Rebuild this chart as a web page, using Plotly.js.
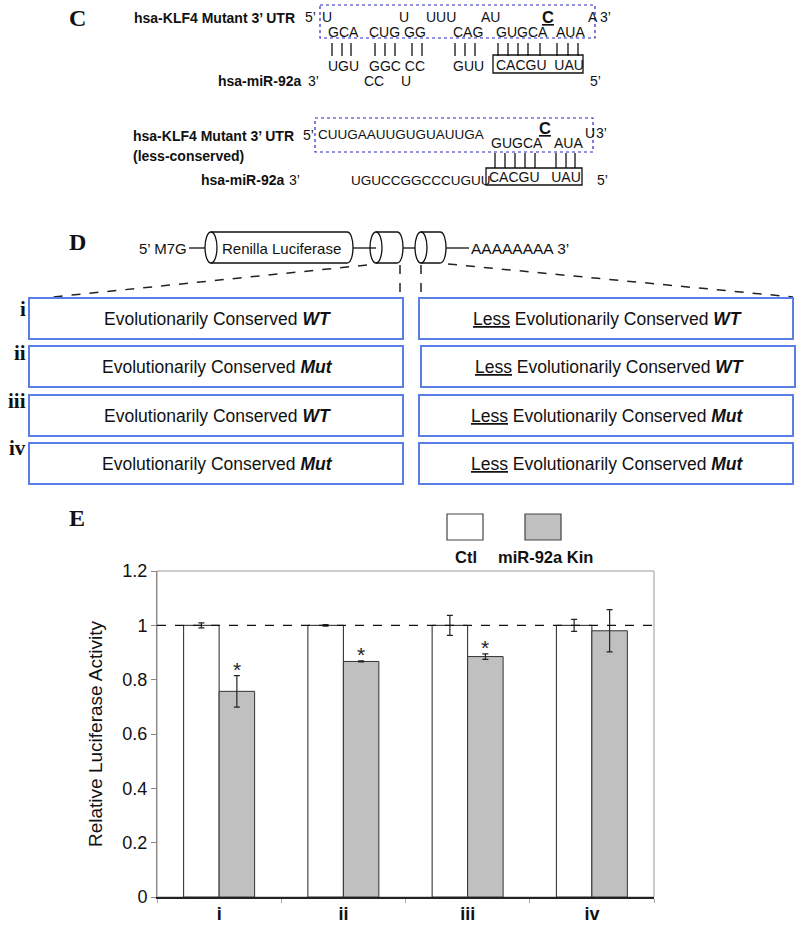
<!DOCTYPE html>
<html><head><meta charset="utf-8">
<script src="https://cdn.plot.ly/plotly-3.0.1.min.js"></script>
<style>body{margin:0;background:#fff}</style>
</head><body><div id="chart" style="width:800px;height:930px"></div>
<script>
// ---------- data ----------
const categories = ['i', 'ii', 'iii', 'iv'];
const seriesNames = ['Ctl', 'miR-92a Kin'];
const ctlValues = [1.0, 1.0, 1.0, 1.0];
const ctlErrors = [0.009, 0.003, 0.037, 0.022];
const kinValues = [0.757, 0.867, 0.885, 0.980];
const kinErrors = [0.058, 0.002, 0.010, 0.078];
const significant = [true, true, true, false];
const yTicks = [0, 0.2, 0.4, 0.6, 0.8, 1, 1.2];
const leftConstructs = ['Evolutionarily Conserved <b><i>WT</i></b>', 'Evolutionarily Conserved <b><i>Mut</i></b>',
  'Evolutionarily Conserved <b><i>WT</i></b>', 'Evolutionarily Conserved <b><i>Mut</i></b>'];
const rightConstructs = ['<u>Less</u> Evolutionarily Conserved <b><i>WT</i></b>', '<u>Less</u> Evolutionarily Conserved <b><i>WT</i></b>',
  '<u>Less</u> Evolutionarily Conserved <b><i>Mut</i></b>', '<u>Less</u> Evolutionarily Conserved <b><i>Mut</i></b>'];

// ---------- geometry helpers ----------
const L = 157, R = 654, T = 571, B = 897;
const px = x => (x - L) / (R - L);
const py = y => (B - y) / (B - T);
const SANS = 'Liberation Sans, Arial, sans-serif';
const SERIF = 'Liberation Serif, Times New Roman, serif';
const ann = [];
const shapes = [];
function txt(x, y, text, size, anchor, family, color) {
  ann.push({xref: 'paper', yref: 'paper', x: px(x), y: py(y), text: text, showarrow: false,
    xanchor: anchor || 'left', yanchor: 'middle', borderpad: 0,
    font: {family: family || SANS, size: size, color: color || '#111'}});
}
function line(x0, y0, x1, y1, color, width, dash) {
  shapes.push({type: 'line', xref: 'paper', yref: 'paper', x0: px(x0), y0: py(y0), x1: px(x1), y1: py(y1),
    line: {color: color || '#111', width: width || 1, dash: dash || 'solid'}});
}
function rect(x0, y0, x1, y1, color, width, dash, fill) {
  shapes.push({type: 'rect', xref: 'paper', yref: 'paper', x0: px(x0), y0: py(y0), x1: px(x1), y1: py(y1),
    line: {color: color, width: width, dash: dash || 'solid'}, fillcolor: fill || 'rgba(0,0,0,0)'});
}

// ---------- panel C ----------
txt(68, 18, '<b>C</b>', 24, 'left', SERIF);
rect(320, 5, 595, 38, '#2828c8', 1.2, 'dot');
txt(133, 18, '<b>hsa-KLF4 Mutant 3’ UTR</b>', 14);
txt(304, 17, '5’', 14);
txt(321, 17, 'U', 14); txt(398, 17, 'U', 14); txt(425, 17, 'UUU', 14); txt(480, 17, 'AU', 14);
txt(541, 17, '<b><u>C</u></b>', 16.5); txt(587, 17, 'A', 14); txt(599, 17, '3’', 14);
txt(327, 32, 'GCA', 14); txt(368, 32, 'CUG GG', 14); txt(452, 32, 'CAG', 14);
txt(495, 32, 'GUGCA', 14); txt(555, 32, 'AUA', 14);
[332, 342, 351, 375, 385, 395, 412, 422, 455, 465, 475, 498, 508, 518, 528, 540, 557, 568, 578]
  .forEach(x => line(x, 43, x, 56, '#111', 1.3));
txt(327, 66, 'UGU', 14); txt(368, 66, 'GGC CC', 14); txt(452, 66, 'GUU', 14);
txt(495, 65, 'CACGU  UAU', 14);
rect(493, 55, 583, 73, '#111', 1.3);
txt(217, 81, '<b>hsa-miR-92a</b>', 14); txt(307, 81, '3’', 14);
txt(363, 81, 'CC', 14); txt(400, 81, 'U', 14); txt(589, 81, '5’', 14);

rect(315, 118, 593, 152, '#2828c8', 1.2, 'dot');
txt(132, 136, '<b>hsa-KLF4 Mutant 3’ UTR</b>', 14);
txt(302, 135, '5’', 14);
txt(317, 134, 'CUUGAAUUGUGUAUUGA', 13.5);
txt(490, 143, 'GUGCA', 14); txt(538, 128, '<b><u>C</u></b>', 16.5);
txt(553, 143, 'AUA', 14); txt(584, 133, 'U', 14); txt(595, 133, '3’', 14);
txt(132, 156, '<b>(less-conserved)</b>', 14);
[495, 505, 515, 525, 535, 556, 566, 575].forEach(x => line(x, 153, x, 168, '#111', 1.3));
txt(200, 180, '<b>hsa-miR-92a</b>', 14); txt(288, 180, '3’', 14);
txt(350, 180, 'UGUCCGGCCCUGUU', 13.5);
txt(488, 177, 'CACGU   UAU', 14);
rect(486, 168, 582, 185, '#111', 1.3);
txt(596, 180, '5’', 14);

// ---------- panel D ----------
txt(68, 242, '<b>D</b>', 24, 'left', SERIF);
txt(138, 248, '5’ M7G', 15);
function cylinder(xl, xr, top, bot, rx) {
  const xc0 = xl + rx, xc1 = xr - rx, k = rx * 4 / 3;
  shapes.push({type: 'path', xref: 'paper', yref: 'paper', line: {color: '#111', width: 1.3},
    path: `M ${px(xc0)},${py(top)} L ${px(xc1)},${py(top)} C ${px(xc1 + k)},${py(top)} ${px(xc1 + k)},${py(bot)} ${px(xc1)},${py(bot)} L ${px(xc0)},${py(bot)}`});
  shapes.push({type: 'circle', xref: 'paper', yref: 'paper', x0: px(xl), x1: px(xl + 2 * rx), y0: py(top), y1: py(bot),
    line: {color: '#111', width: 1.3}});
}
cylinder(205, 353, 232, 263, 6);
cylinder(370, 403, 232, 263, 6);
cylinder(415, 446, 232, 263, 6);
line(189, 248, 205, 248, '#111', 1.3);
line(353, 248, 376, 248, '#111', 1.3);
line(403, 248, 415, 248, '#111', 1.3);
line(446, 248, 469, 248, '#111', 1.3);
txt(221, 248, 'Renilla Luciferase', 15);
txt(470, 248, 'AAAAAAAA 3’', 15.5);
line(367, 265, 43, 298, '#222', 1.5, 'dash');
line(400, 265, 400, 298, '#222', 1.5, 'dash');
line(421, 265, 421, 298, '#222', 1.5, 'dash');
line(448, 264, 793, 297, '#222', 1.5, 'dash');
const boxTops = [298, 346, 395, 443];
const numeralY = [309, 353, 401, 448];
boxTops.forEach((t, i) => {
  rect(29, t, 403, t + 41, '#5a7fe6', 2);
  const rx0 = i === 1 ? 421 : 419;
  rect(rx0, t, rx0 + 374, t + 41, '#5a7fe6', 2);
  txt(217, t + 21, leftConstructs[i], 17.5, 'center');
  txt(rx0 + 188, t + 21, rightConstructs[i], 17.5, 'center');
  txt(27, numeralY[i], '<b>' + categories[i] + '</b>', 21, 'right', SERIF);
});

// ---------- panel E ----------
txt(68, 518, '<b>E</b>', 24, 'left', SERIF);
rect(447, 514, 483, 540, '#444', 1.2, 'solid', '#ffffff');
rect(525, 514, 561, 540, '#444', 1.2, 'solid', '#c0c0c0');
txt(466, 557, '<b>' + seriesNames[0] + '</b>', 16.5, 'center');
txt(545, 557, '<b>' + seriesNames[1] + '</b>', 16.5, 'center');

// frame and reference line
shapes.push({type: 'rect', xref: 'paper', yref: 'paper', x0: 0, x1: 1, y0: 0, y1: 1, layer: 'below',
  line: {color: '#999', width: 1}});
shapes.push({type: 'line', xref: 'paper', yref: 'y', x0: 0, x1: 1, y0: 1, y1: 1, layer: 'above',
  line: {color: '#111', width: 1.2, dash: 'dash'}});

// significance stars from data
categories.forEach((c, i) => {
  if (significant[i]) {
    ann.push({xref: 'x', yref: 'y', x: c, y: kinValues[i] + kinErrors[i], xshift: 17.75, yshift: -7,
      text: '*', showarrow: false, yanchor: 'bottom', font: {family: SANS, size: 21, color: '#222'}});
  }
});

const traces = [
  {type: 'bar', name: seriesNames[0], x: categories, y: ctlValues,
    marker: {color: '#ffffff', line: {color: '#222', width: 1}},
    error_y: {type: 'data', array: ctlErrors, visible: true, color: '#222', thickness: 1.2, width: 3}},
  {type: 'bar', name: seriesNames[1], x: categories, y: kinValues,
    marker: {color: '#c0c0c0', line: {color: '#333', width: 1}},
    error_y: {type: 'data', array: kinErrors, visible: true, color: '#222', thickness: 1.2, width: 3}}
];

const layout = {
  width: 800, height: 930,
  margin: {l: L, r: 800 - R, t: T, b: 930 - B, pad: 0},
  paper_bgcolor: '#ffffff', plot_bgcolor: '#ffffff',
  showlegend: false,
  barmode: 'group', bargap: 0.4286, bargroupgap: 0,
  font: {family: SANS, color: '#111'},
  xaxis: {type: 'category', showline: true, linecolor: '#222', linewidth: 1.5,
    ticks: 'outside', tickson: 'boundaries', ticklen: 4, tickcolor: '#aaa',
    tickvals: categories, ticktext: categories.map(c => '<b>' + c + '</b>'),
    tickfont: {family: SANS, size: 18, color: '#111'}, showgrid: false, zeroline: false, fixedrange: true},
  yaxis: {range: [0, 1.2], tickvals: yTicks, ticktext: yTicks.map(v => String(v)),
    showline: true, linecolor: '#888', linewidth: 1, ticks: 'outside', ticklen: 5, tickcolor: '#888',
    tickfont: {family: SANS, size: 18, color: '#111'}, showgrid: false, zeroline: false,
    title: {text: 'Relative Luciferase Activity', font: {family: SANS, size: 19, color: '#111'}, standoff: 14}},
  shapes: shapes,
  annotations: ann
};
Plotly.newPlot('chart', traces, layout, {displayModeBar: false, staticPlot: true});
</script>
</body></html>
